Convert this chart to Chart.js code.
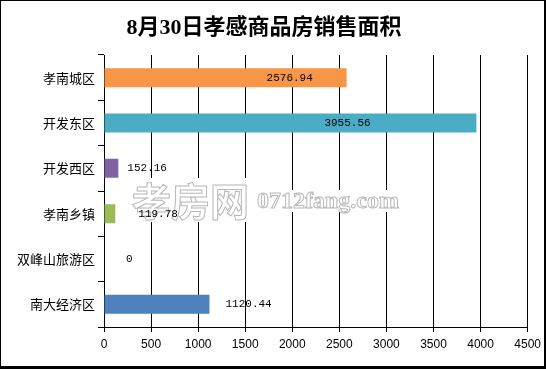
<!DOCTYPE html>
<html>
<head>
<meta charset="utf-8">
<script src="https://cdn.jsdelivr.net/npm/chart.js@4.4.0/dist/chart.umd.min.js"></script>
<style>
  html, body { margin: 0; padding: 0; background: #fff; }
  #wrap { width: 546px; height: 369px; }
</style>
</head>
<body>
<div id="wrap"><canvas id="area-chart" width="546" height="369"></canvas></div>
<script>
var districts = ["孝南城区", "开发东区", "开发西区", "孝南乡镇", "双峰山旅游区", "南大经济区"];
var areas = [2576.94, 3955.56, 152.16, 119.78, 0, 1120.44];
var areaLabels = ["2576.94", "3955.56", "152.16", "119.78", "0", "1120.44"];
var xMax = 4500;
var xStep = 500;

var barColors = ["#F79646", "#4BACC6", "#8064A2", "#9BBB59", "#C0504D", "#4F81BD"];

// outer frame of the picture
var framePlugin = {
  id: "frame",
  afterDraw: function(chart) {
    var ctx = chart.ctx;
    ctx.save();
    ctx.fillStyle = "#000";
    ctx.fillRect(0, 0, 546, 1);
    ctx.fillRect(0, 0, 1, 369);
    ctx.fillRect(544, 0, 2, 369);
    ctx.fillRect(0, 366, 546, 3);
    ctx.restore();
  }
};

// site watermark, sits on top of the grid
var watermarkPlugin = {
  id: "watermark",
  beforeDatasetsDraw: function(chart) {
    var ctx = chart.ctx;
    ctx.save();
    ctx.fillStyle = "#fff";
    ctx.fillRect(128, 178, 127, 44);
    ctx.fillRect(255, 190, 145, 22);
    ctx.strokeStyle = "#b8b8b8";
    ctx.lineWidth = 1;
    ctx.textBaseline = "middle";
    ctx.textAlign = "left";
    ctx.font = "bold 39px 'Noto Sans CJK SC'";
    ctx.fillText("孝房网", 132, 201);
    ctx.strokeText("孝房网", 132, 201);
    ctx.font = "bold 24px 'Liberation Serif'";
    ctx.fillText("0712fang.com", 257, 202);
    ctx.strokeText("0712fang.com", 257, 202);
    ctx.restore();
  }
};

// value labels next to / on the bars
var valueLabelPlugin = {
  id: "valueLabels",
  afterDatasetsDraw: function(chart, args, opts) {
    var ctx = chart.ctx;
    var bars = chart.getDatasetMeta(0).data;
    ctx.save();
    ctx.font = "11px 'Liberation Mono'";
    ctx.fillStyle = "#000";
    ctx.textAlign = "left";
    ctx.textBaseline = "middle";
    bars.forEach(function(bar, i) {
      ctx.fillText(areaLabels[i], bar.x + opts.shift[i], bar.y);
    });
    ctx.restore();
  }
};

var ctx = document.getElementById("area-chart").getContext("2d");
var chart = new Chart(ctx, {
  type: "bar",
  data: {
    labels: districts,
    datasets: [{
      data: areas,
      backgroundColor: barColors,
      borderWidth: 0,
      barPercentage: 0.42,
      categoryPercentage: 1.0
    }]
  },
  options: {
    indexAxis: "y",
    responsive: false,
    animation: false,
    layout: { padding: { top: 0, right: 18, bottom: 0, left: 0 } },
    plugins: {
      legend: { display: false },
      tooltip: { enabled: false },
      title: {
        display: true,
        text: "8月30日孝感商品房销售面积",
        color: "#000",
        font: { size: 22, weight: "bold", family: "'Liberation Serif', 'Noto Sans CJK SC'" },
        padding: { top: 15, bottom: 13.6 }
      },
      valueLabels: { shift: [-80, -152, 9, 23, 22, 16] }
    },
    scales: {
      x: {
        min: 0,
        max: xMax,
        grid: { color: "#000", tickLength: 5, drawTicks: true },
        border: { color: "#000" },
        ticks: {
          stepSize: xStep,
          autoSkip: false,
          maxRotation: 0,
          padding: 5,
          color: "#000",
          font: { size: 12, family: "'Liberation Sans'" },
          callback: function(value) { return String(value); }
        },
        afterFit: function(scale) { scale.height = 42; }
      },
      y: {
        grid: { drawOnChartArea: false, drawTicks: true, tickLength: 6, color: "#000", offset: true },
        border: { color: "#000" },
        ticks: {
          padding: 3,
          color: "#000",
          font: { size: 13, family: "'Noto Sans CJK SC'" }
        },
        afterFit: function(scale) { scale.width = 104; }
      }
    }
  },
  plugins: [watermarkPlugin, valueLabelPlugin, framePlugin]
});
</script>
</body>
</html>
